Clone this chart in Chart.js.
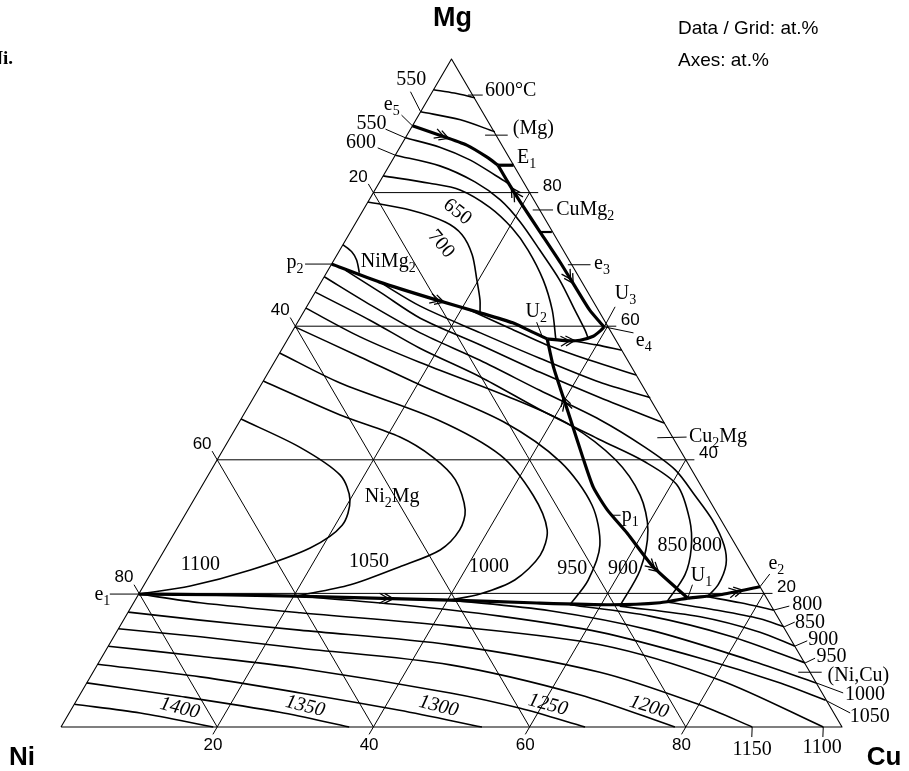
<!DOCTYPE html>
<html><head><meta charset="utf-8">
<script src="https://cdn.jsdelivr.net/npm/chart.js@4.4.0/dist/chart.umd.min.js"></script>
<style>html,body{margin:0;padding:0;background:#fff;}canvas{display:block;}</style>
</head><body>
<canvas id="c" width="909" height="771"></canvas>
<script>
// ---- Compositions are [Cu, Mg] in at.% (Ni = 100 - Cu - Mg) ----
const gridValues = [20, 40, 60, 80];
const triangle = [[0,0],[100,0],[0,100],[0,0]];

// (Mg) field isotherms
const iso600top = [[0,95.4],[2.9,94.9],[5.9,94.2]];
const iso550top = [[0,92.1],[5.7,90.9],[11.0,89.1]];
// NiMg2 field isotherms
const iso550 = [[0,88.2],[5.1,86.8],[9.9,84.9],[14.3,82.6],[16.7,81.3]];
const iso600 = [[0,85.6],[6.5,84.0],[12.2,81.6],[16.8,78.9],[21.0,75.6],[25.6,71.4],[30.4,66.9],[34.6,62.4],[37.4,59.4],[38.4,58.2]];
const iso650 = [[0,82.5],[6.5,81.4],[10.9,80.4],[16.0,77.8],[20.4,74.7],[24.1,71.4],[28.3,66.9],[31.7,62.4],[34.3,58.1]];
const iso700 = [[0,78.6],[6.0,77.4],[11.4,75.6],[14.5,73.7],[17.3,70.7],[19.8,66.9],[21.7,63.9],[22.6,62.1]];
const isoNearP2 = [[0,72.2],[1.7,71.1],[2.9,69.9],[4.2,68.0]];
// Cu2Mg field isotherms
const cu2mgA = [[36.2,57.9],[40.0,57.2],[43.6,56.4]];
const cu2mgB = [[21.2,62.4],[27.6,59.7],[33.6,57.2],[40.3,54.9],[47.3,52.7]];
const cu2mgC = [[7.5,66.6],[14.5,63.0],[24.2,59.0],[33.7,55.2],[43.2,51.6],[50.8,49.3]];
const cu2mgD = [[2.2,68.4],[8.3,65.1],[15.4,61.2],[25.1,57.2],[34.8,53.1],[44.4,49.3],[54.5,45.5]];
// Ni2Mg field isotherms
const iso800 = [[0,67.4],[8.0,63.2],[16.5,59.0],[26.2,54.9],[36.1,50.4],[46.0,46.0],[53.8,41.9],[59.4,38.5],[63.8,34.7],[67.9,31.0],[71.3,27.2],[73.0,24.3],[73.5,21.3],[73.0,19.5]];
const iso850 = [[0,65.1],[9.1,60.9],[17.6,56.7],[27.5,52.4],[37.6,47.5],[47.5,43.0],[54.9,39.7],[60.8,36.2],[65.0,31.0],[67.3,26.8],[68.5,22.8],[68.2,18.7]];
const iso900 = [[0,62.7],[9.1,58.4],[18.6,54.6],[32.9,49.3],[42.6,45.2],[51.0,40.0],[56.8,34.7],[60.4,29.5],[62.4,23.5],[62.5,18.1]];
const iso950 = [[0,59.9],[10.6,55.4],[20.4,51.2],[33.8,45.7],[44.1,39.7],[51.4,33.2],[55.4,27.2],[56.5,22.0],[56.0,18.3]];
const iso1000 = [[0,56.0],[10.0,51.5],[25.2,46.0],[35.9,40.7],[43.1,34.7],[47.5,29.5],[48.5,25.7],[47.1,22.0],[43.7,19.9],[40.3,19.0]];
const iso1050 = [[0,51.8],[12.4,46.7],[21.7,43.4],[27.4,40.4],[32.0,37.0],[35.5,32.5],[36.3,29.5],[35.3,26.5],[31.4,24.0],[26.4,21.3],[20.3,19.6]];
const iso1100 = [[0,46.1],[9.6,41.9],[16.9,37.7],[20.0,34.0],[20.9,30.2],[18.5,26.8],[12.5,23.5],[6.0,21.1],[0,19.9]];
// (Ni,Cu) field isotherms
const nc1400 = [[0,3.4],[9.1,2.1],[19.5,0]];
const nc1350 = [[0,6.6],[12.9,4.6],[26.9,2.2],[36.9,0]];
const nc1300 = [[0,9.4],[14.1,7.5],[28.1,5.1],[42.1,2.5],[53.9,0]];
const nc1250 = [[0,12.1],[12.5,10.6],[26.2,8.8],[47.3,5.1],[57.4,2.8],[67.1,0]];
const nc1200 = [[0,14.7],[11.1,13.5],[24.7,11.8],[45.2,9.3],[64.1,4.8],[78.6,0]];
const nc1150 = [[0,17.2],[9.8,16.0],[23.3,14.5],[43.7,12.3],[64.9,8.2],[80.2,3.3],[88.5,0]];
const nc1100 = [[0,19.9],[8.5,18.6],[22.1,17.1],[42.3,15.1],[62.9,12.3],[80.9,7.0],[97.6,0]];
const nc1050 = [[20.3,19.6],[34.3,18.3],[47.9,16.6],[61.9,14.2],[76.7,10.3],[88.8,6.6],[95.9,4.0]];
const nc1000 = [[40.3,19.0],[53.9,17.4],[68.2,14.5],[83.2,10.0],[93.4,6.6]];
const nc950 = [[56.0,18.3],[67.1,16.6],[78.9,13.6],[90.5,9.6]];
const nc900 = [[62.5,18.1],[73.6,16.5],[82.4,14.2],[87.9,12.1]];
const nc850 = [[68.2,18.7],[75.7,17.4],[81.4,16.2],[85.1,15.0]];
const nc800 = [[73.0,19.5],[77.7,18.6],[82.5,17.5]];

// Monovariant (valley) lines
const valleyE5E1 = [[0,90.0],[4.2,88.6],[8.4,87.1],[11.9,85.3],[13.9,84.1]];
const valleyE1U3 = [[13.9,84.1],[16.4,81.6],[19.5,78.6],[24.3,74.1],[29.2,69.5],[33.4,65.4],[36.5,62.4],[38.7,60.6],[39.6,59.9]];
const valleyU2U3 = [[33.2,58.1],[35.9,57.8],[37.5,57.9],[38.9,58.5],[39.4,59.3],[39.6,59.9]];
const valleyP2U2 = [[0,69.3],[7.5,66.6],[16.2,63.9],[22.7,62.0],[27.6,60.5],[30.4,59.3],[33.2,58.1]];
const valleyU2U1 = [[33.2,58.1],[36.1,53.9],[39.6,49.4],[43.1,44.9],[46.6,40.4],[50.2,35.9],[53.7,32.5],[58.0,29.0],[63.8,24.0],[70.6,19.3]];
const valleyE1U1 = [[0,19.9],[10.0,19.8],[20.3,19.6],[30.3,19.3],[40.3,19.0],[50.8,18.6],[61.2,18.3],[67.4,18.6],[70.6,19.3]];
const valleyU1E2 = [[70.6,19.3],[74.5,19.8],[79.0,21.0]];
const tickE1 = [[13.9,84.1],[15.9,84.1]];
const tickE1U3 = [[24.3,74.1],[25.8,74.1]];

// Label leader lines
const leaders = [
  [[4.8,94.6],[6.7,94.6]], [[-2.8,95.1],[0,92.1]], [[-2.2,91.6],[0,90.0]], [[-3.2,89.5],[0,88.2]],
  [[-2.8,86.7],[0,85.6]], [[10.0,88.6],[12.9,88.6]], [[21.7,77.4],[24.3,77.4]], [[30.3,69.2],[33.2,69.2]],
  [[39.6,59.9],[39.5,62.9]], [[39.6,59.9],[43.8,59.0]], [[30.6,60.6],[32.6,58.2]], [[-3.4,69.3],[0,69.3]],
  [[54.7,43.3],[58.4,43.4]], [[54.7,31.7],[55.8,31.7]], [[70.6,19.3],[70.2,21.3]], [[79.0,21.0],[79.3,22.9]],
  [[-3.7,19.9],[0,19.9]], [[82.5,17.5],[84.2,18.1]], [[85.1,15.0],[86.1,15.7]], [[87.9,12.1],[89.1,12.9]],
  [[90.5,9.6],[91.4,10.3]], [[90.3,8.2],[93.3,8.2]], [[93.4,6.6],[97.6,5.1]], [[95.9,4.0],[100,2.1]],
  [[88.5,0],[89.2,-1.5]], [[97.6,0],[98.3,-1.5]]
];

// Text labels: [text, position [Cu,Mg], align]  ('_' marks a subscript char)
const serifLabels = [
  ['600°C',[6.7,95.2],'left'], ['550',[-3.6,96.9],'center'], ['e_5',[-4.2,93.1],'center'],
  ['550',[-5.4,90.3],'center'], ['600',[-5.3,87.4],'center'], ['(Mg)',[13.1,89.5],'left'],
  ['E_1',[15.8,85.2],'left'], ['CuMg_2',[24.7,77.4],'left'], ['e_3',[33.6,69.3],'left'],
  ['U_3',[38.5,64.8],'left'], ['e_4',[44.7,57.8],'left'], ['U_2',[29.8,62.1],'center'],
  ['p_2',[-3.7,69.5],'right'], ['NiMg_2',[7.1,69.6],'center'], ['Cu_2Mg',[58.7,43.4],'left'],
  ['Ni_2Mg',[25.2,34.4],'center'], ['1100',[5.7,24.3],'center'], ['1050',[27.1,24.7],'center'],
  ['1000',[42.8,24.0],'center'], ['950',[53.6,23.7],'center'], ['900',[60.1,23.7],'center'],
  ['850',[64.7,27.2],'center'], ['800',[69.1,27.2],'center'], ['p_1',[56.0,31.6],'left'],
  ['U_1',[70.7,22.6],'center'], ['e_2',[79.4,24.4],'center'], ['800',[86.4,18.3],'center'],
  ['850',[88.1,15.6],'center'], ['900',[91.1,13.0],'center'], ['950',[93.4,10.5],'center'],
  ['(Ni,Cu)',[98.3,7.6],'center'], ['1000',[100.5,4.9],'center'], ['1050',[102.8,1.5],'center'],
  ['1150',[90.2,-3.4],'center'], ['1100',[99.0,-3.1],'center'], ['e_1',[-4.6,19.8],'center']
];
const rotatedLabels = [
  ['650',[12.2,77.1],38,''], ['700',[12.5,72.3],50,''],
  ['1400',[13.8,2.8],14,'italic'], ['1350',[29.7,3.1],14,'italic'], ['1300',[46.8,3.1],14,'italic'],
  ['1250',[60.7,3.3],15,'italic'], ['1200',[73.8,3.0],17,'italic']
];
// Direction arrows on valley lines: [line, segment, t, direction]
const arrows = [
  [valleyE5E1,1,0.15,1], [valleyE1U3,1,0.5,-1], [valleyE1U3,4,0.6,1], [valleyP2U2,2,0.05,1],
  [valleyU2U3,1,0.2,1], [valleyU2U1,2,0.15,-1], [valleyU2U1,8,0.05,1], [valleyE1U1,3,0.2,1],
  [valleyU1E2,1,0.45,1]
];

const toXY = p => ({x: p[0] + p[1]/2, y: p[1]});
const datasets = [];
function add(points, width, tension) {
  datasets.push({data: points.map(toXY), showLine: true, borderColor: '#000', backgroundColor: '#000',
    borderWidth: width, pointRadius: 0, pointHoverRadius: 0, pointHitRadius: 0, tension: tension || 0,
    clip: false, fill: false, borderCapStyle: 'butt', borderJoinStyle: 'round'});
}
add(triangle, 1.1, 0);
gridValues.forEach(v => {
  add([[0, v], [100 - v + 1.1, v]], 1, 0);
  add([[-1.3, 100 - v + 1.3], [100 - v, 0]], 1, 0);
  add([[v, -1.1], [v, 100 - v]], 1, 0);
});
[iso600top, iso550top, iso550, iso600, iso650, iso700, isoNearP2, cu2mgA, cu2mgB, cu2mgC, cu2mgD,
 iso800, iso850, iso900, iso950, iso1000, iso1050, iso1100,
 nc1400, nc1350, nc1300, nc1250, nc1200, nc1150, nc1100, nc1050, nc1000, nc950, nc900, nc850, nc800
].forEach(c => add(c, 1.6, 0.3));
[valleyE5E1, valleyE1U3, valleyU2U3, valleyP2U2, valleyU2U1, valleyE1U1, valleyU1E2].forEach(c => add(c, 3.2, 0.2));
add(tickE1, 3.2, 0); add(tickE1U3, 2.2, 0);
leaders.forEach(l => add(l, 1, 0));

const SERIF = '"Liberation Serif", "Times New Roman", serif';
const SANS = '"Liberation Sans", Arial, sans-serif';

function drawRich(ctx, str, x, y, size, family, style, align) {
  const runs = [];
  for (let i = 0; i < str.length; i++) {
    const sub = str[i] === '_';
    const ch = sub ? str[++i] : str[i];
    const last = runs[runs.length - 1];
    if (last && !last.sub && !sub) last.t += ch; else runs.push({t: ch, sub});
  }
  const fN = (style ? style + ' ' : '') + size + 'px ' + family;
  const fS = (style ? style + ' ' : '') + Math.round(size * 0.72) + 'px ' + family;
  let w = 0;
  runs.forEach(r => { ctx.font = r.sub ? fS : fN; r.w = ctx.measureText(r.t).width; w += r.w; });
  let x0 = align === 'left' ? x : align === 'right' ? x - w : x - w / 2;
  runs.forEach(r => {
    ctx.font = r.sub ? fS : fN;
    ctx.fillText(r.t, x0, y + (r.sub ? size * 0.32 : 0));
    x0 += r.w;
  });
}

const annot = {
  id: 'annot',
  afterDraw(chart) {
    const ctx = chart.ctx, sx = chart.scales.x, sy = chart.scales.y;
    const P = p => [sx.getPixelForValue(p[0] + p[1] / 2), sy.getPixelForValue(p[1])];
    ctx.save();
    ctx.fillStyle = '#000'; ctx.strokeStyle = '#000';
    ctx.textAlign = 'left';
    // arrows
    ctx.lineWidth = 1.3;
    arrows.forEach(([line, seg, t, dir]) => {
      const a = P(line[seg]), b = P(line[seg + 1]);
      const px = a[0] + (b[0] - a[0]) * t, py = a[1] + (b[1] - a[1]) * t;
      let dx = b[0] - a[0], dy = b[1] - a[1]; const L = Math.hypot(dx, dy);
      dx = dx / L * dir; dy = dy / L * dir;
      const nx = -dy, ny = dx;
      [5, 0].forEach(k => {
        const tx = px + dx * k, ty = py + dy * k;
        ctx.beginPath();
        ctx.moveTo(tx - dx * 9 + nx * 5, ty - dy * 9 + ny * 5);
        ctx.lineTo(tx, ty);
        ctx.lineTo(tx - dx * 9 - nx * 5, ty - dy * 9 - ny * 5);
        ctx.stroke();
      });
    });
    // grid labels
    ctx.textAlign = 'center'; ctx.textBaseline = 'middle';
    ctx.font = '17px ' + SANS;
    gridValues.forEach(v => {
      let p = P([-1.3, 100 - v + 1.3]); ctx.fillText(String(v), p[0] - 10, p[1] - 7);
      p = P([100 - v + 1.1, v]); ctx.fillText(String(v), p[0] + 14, p[1] - 6);
      p = P([v, -1.1]); ctx.fillText(String(v), p[0], p[1] + 11);
    });
    // serif labels
    ctx.textAlign = 'left';
    serifLabels.forEach(([txt, pos, align]) => {
      const p = P(pos); drawRich(ctx, txt, p[0], p[1], 20, SERIF, '', align);
    });
    rotatedLabels.forEach(([txt, pos, rot, style]) => {
      const p = P(pos);
      ctx.save(); ctx.translate(p[0], p[1]); ctx.rotate(rot * Math.PI / 180);
      drawRich(ctx, txt, 0, 0, 20, SERIF, style, 'center');
      ctx.restore();
    });
    // corner titles
    ctx.textBaseline = 'alphabetic'; ctx.textAlign = 'center';
    ctx.font = 'bold 27px ' + SANS;
    let p = P([0, 100]); ctx.fillText('Mg', p[0] + 1, p[1] - 33);
    ctx.font = 'bold 26px ' + SANS;
    p = P([0, 0]); ctx.fillText('Ni', p[0] - 39, p[1] + 38);
    p = P([100, 0]); ctx.fillText('Cu', p[0] + 42, p[1] + 38);
    ctx.textAlign = 'left';
    ctx.font = '19px ' + SANS;
    ctx.fillText('Data / Grid: at.%', 678, 34);
    ctx.fillText('Axes: at.%', 678, 66);
    ctx.textAlign = 'right';
    ctx.font = 'bold 19px ' + SERIF;
    ctx.fillText('Ni.', 13, 64);
    ctx.restore();
  }
};

new Chart(document.getElementById('c'), {
  type: 'scatter',
  data: {datasets},
  options: {
    responsive: false, devicePixelRatio: 1, animation: false, events: [],
    layout: {padding: {left: 61, right: 67, top: 59, bottom: 44}},
    elements: {line: {capBezierPoints: false}},
    plugins: {legend: {display: false}, tooltip: {enabled: false}},
    scales: {x: {type: 'linear', min: 0, max: 100, display: false},
             y: {type: 'linear', min: 0, max: 100, display: false}}
  },
  plugins: [annot]
});
</script>
</body></html>
